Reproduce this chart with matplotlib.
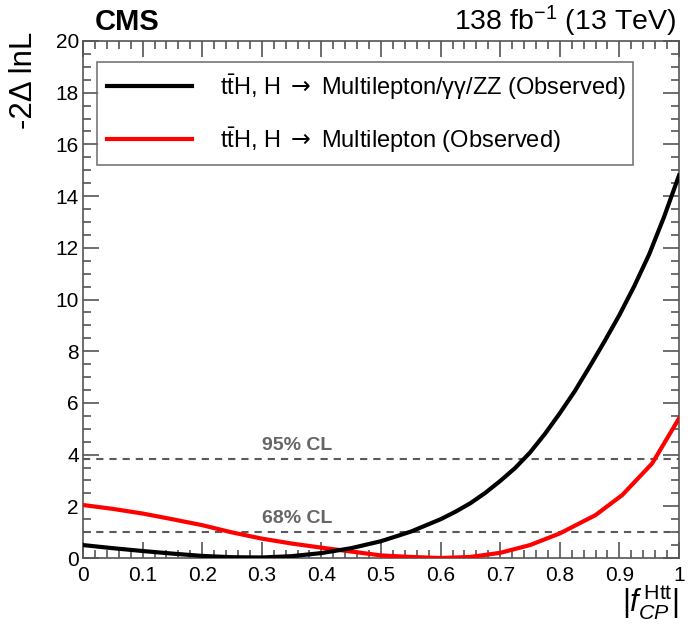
import matplotlib
matplotlib.use("Agg")
import matplotlib.pyplot as plt
from matplotlib.ticker import MultipleLocator, FixedLocator, FixedFormatter

plt.rcParams['font.family'] = ['Liberation Sans', 'DejaVu Sans']
plt.rcParams['mathtext.fontset'] = 'custom'
plt.rcParams['mathtext.rm'] = 'Liberation Sans'
plt.rcParams['mathtext.it'] = 'Liberation Sans:italic'
plt.rcParams['mathtext.bf'] = 'Liberation Sans:bold'
plt.rcParams['mathtext.sf'] = 'DejaVu Sans'
plt.rcParams['lines.scale_dashes'] = False

# Likelihood scans versus |f_CP^Htt|
fcp_comb = [0.00, 0.05, 0.10, 0.15, 0.20, 0.25, 0.30, 0.35, 0.40, 0.45, 0.50,
            0.55, 0.60, 0.625, 0.65, 0.675, 0.70, 0.725, 0.75, 0.775, 0.80,
            0.825, 0.85, 0.875, 0.90, 0.925, 0.95, 0.975, 1.00]
nll_comb = [0.50, 0.38, 0.27, 0.17, 0.08, 0.03, 0.02, 0.07, 0.19, 0.38, 0.65,
            1.02, 1.50, 1.79, 2.12, 2.52, 2.98, 3.48, 4.08, 4.80, 5.60,
            6.45, 7.40, 8.38, 9.40, 10.52, 11.75, 13.20, 14.80]

fcp_ml = [0.00, 0.05, 0.10, 0.15, 0.20, 0.25, 0.30, 0.35, 0.40, 0.45, 0.50,
          0.55, 0.60, 0.65, 0.70, 0.75, 0.80, 0.86, 0.905, 0.955, 1.00]
nll_ml = [2.05, 1.90, 1.72, 1.50, 1.27, 0.99, 0.75, 0.56, 0.40, 0.25, 0.10,
          0.04, 0.00, 0.04, 0.20, 0.50, 0.95, 1.66, 2.44, 3.66, 5.40]

cl_levels = [1.0, 3.84]
cl_labels = ["68% CL", "95% CL"]

label_comb = r"$\mathrm{t\bar{t}}$H, H $\mathsf{\rightarrow}$ Multilepton/γγ/ZZ (Observed)"
label_ml = r"$\mathrm{t\bar{t}}$H, H $\mathsf{\rightarrow}$ Multilepton (Observed)"

x_ticks = [0.0, 0.1, 0.2, 0.3, 0.4, 0.5, 0.6, 0.7, 0.8, 0.9, 1.0]
x_ticklabels = ["0", "0.1", "0.2", "0.3", "0.4", "0.5", "0.6", "0.7", "0.8", "0.9", "1"]

fig = plt.figure(figsize=(6.92, 6.27), dpi=100)
ax = fig.add_axes([83 / 692, 1 - 558 / 627, 596 / 692, 517 / 627])

axis_col = "#555555"
for s in ax.spines.values():
    s.set_color(axis_col)
    s.set_linewidth(1.2)

ax.plot(fcp_comb, nll_comb, color="black", lw=3.0, label=label_comb, zorder=4)
ax.plot(fcp_ml, nll_ml, color="#ff0000", lw=3.0, label=label_ml, zorder=3)

for lev, lab in zip(cl_levels, cl_labels):
    ax.axhline(lev, color="#5a5a5a", lw=1.5, dashes=(5.2, 4.3), zorder=2)
    ax.text(0.36, lev + 0.2, lab, color="#666666", fontsize=14,
            fontweight="bold", ha="center", va="bottom")

ax.set_xlim(0, 1)
ax.set_ylim(0, 20)
ax.xaxis.set_major_locator(FixedLocator(x_ticks))
ax.xaxis.set_major_formatter(FixedFormatter(x_ticklabels))
ax.xaxis.set_minor_locator(MultipleLocator(0.02))
ax.yaxis.set_major_locator(MultipleLocator(2))
ax.yaxis.set_minor_locator(MultipleLocator(0.5))
ax.tick_params(which="both", direction="in", top=True, right=True,
               color=axis_col, width=1.2)
ax.tick_params(which="major", length=11.5)
ax.tick_params(which="minor", length=5.8)
ax.tick_params(axis="x", which="major", labelsize=15, pad=6)
ax.tick_params(axis="y", which="major", labelsize=15, pad=3)

leg = ax.legend(loc="upper left", bbox_to_anchor=(0.0235, 0.0, 0.899, 0.959),
                mode="expand", fontsize=17, frameon=True, fancybox=False,
                handlelength=3.6, handletextpad=1.2, borderpad=0.42,
                labelspacing=1.0, borderaxespad=0.0)
leg.get_frame().set_edgecolor("#555555")
leg.get_frame().set_linewidth(1.2)

fig.text(95 / 692, 1 - 30 / 627, "CMS", fontsize=21, fontweight="bold",
         ha="left", va="baseline")
fig.text(676 / 692, 1 - 30 / 627, r"138 fb$^{-1}$ (13 TeV)", fontsize=20.5,
         ha="right", va="baseline")
fig.text(24 / 692, 1 - 32 / 627, "-2Δ lnL", fontsize=22.5, rotation=90,
         ha="center", va="top")
fig.text(679 / 692, 1 - 612 / 627, r"$|f^{\,\mathrm{Htt}}_{CP}|$", fontsize=22,
         ha="right", va="baseline")

fig.savefig("out.png", dpi=100)
